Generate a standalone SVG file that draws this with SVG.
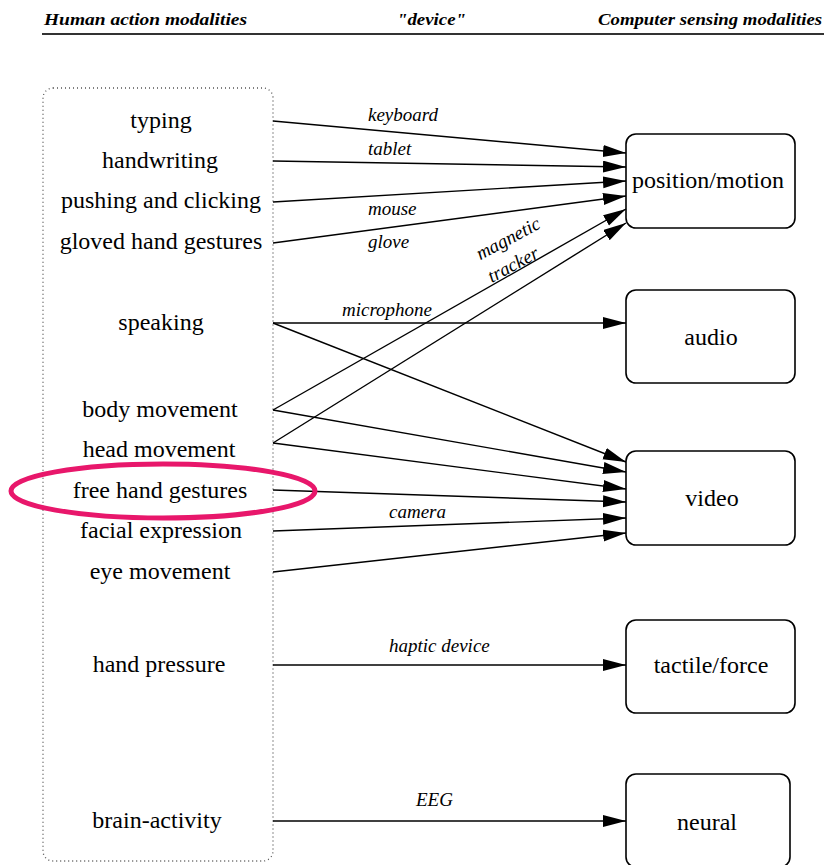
<svg xmlns="http://www.w3.org/2000/svg" width="824" height="865" viewBox="0 0 824 865">
<defs>
<marker id="ah" markerUnits="userSpaceOnUse" markerWidth="24" markerHeight="14" refX="23" refY="6" orient="auto">
<path d="M0,0 L23,6 L0,12 Z" fill="#000"/>
</marker>
<style>
.hdr{font-family:"Liberation Serif",serif;font-weight:bold;font-style:italic;font-size:16px;fill:#000}
.lbl{font-family:"Liberation Serif",serif;font-size:24px;fill:#000;text-anchor:middle}
.edge{font-family:"Liberation Serif",serif;font-style:italic;font-size:19px;fill:#000}
.box{fill:#fff;stroke:#000;stroke-width:1.6}
.conn line{stroke:#000;stroke-width:1.4;marker-end:url(#ah)}
</style>
</defs>
<rect width="824" height="865" fill="#fff"/>
<g id="header">
<text class="hdr" x="44" y="25" textLength="203" lengthAdjust="spacingAndGlyphs">Human action modalities</text>
<text class="hdr" x="397" y="25" textLength="69" lengthAdjust="spacingAndGlyphs">"device"</text>
<text class="hdr" x="598" y="25" textLength="224" lengthAdjust="spacingAndGlyphs">Computer sensing modalities</text>
<line x1="42" y1="34" x2="824" y2="34" stroke="#333" stroke-width="2"/>
</g>
<g id="human-group">
<rect x="43" y="88" width="230" height="773" rx="10" fill="none" stroke="#555" stroke-width="1.3" stroke-dasharray="1 3"/>
</g>
<g id="n-typing"><text class="lbl" x="161" y="128">typing</text></g>
<g id="n-handwriting"><text class="lbl" x="160" y="168">handwriting</text></g>
<g id="n-pushing"><text class="lbl" x="161" y="208">pushing and clicking</text></g>
<g id="n-gloved"><text class="lbl" x="161" y="249">gloved hand gestures</text></g>
<g id="n-speaking"><text class="lbl" x="161" y="330">speaking</text></g>
<g id="n-body"><text class="lbl" x="160" y="417">body movement</text></g>
<g id="n-head"><text class="lbl" x="159" y="457">head movement</text></g>
<g id="n-freehand"><text class="lbl" x="160" y="498">free hand gestures</text></g>
<g id="n-facial"><text class="lbl" x="161" y="538">facial expression</text></g>
<g id="n-eye"><text class="lbl" x="160" y="579">eye movement</text></g>
<g id="n-pressure"><text class="lbl" x="159" y="672">hand pressure</text></g>
<g id="n-brain"><text class="lbl" x="157" y="828">brain-activity</text></g>

<g id="n-position"><rect class="box" x="626" y="134" width="169" height="94" rx="10"/><text class="lbl" x="708" y="188">position/motion</text></g>
<g id="n-audio"><rect class="box" x="626" y="290" width="169" height="93" rx="10"/><text class="lbl" x="711" y="345">audio</text></g>
<g id="n-video"><rect class="box" x="626" y="451" width="169" height="94" rx="10"/><text class="lbl" x="712" y="506">video</text></g>
<g id="n-tactile"><rect class="box" x="626" y="620" width="169" height="93" rx="10"/><text class="lbl" x="711" y="673">tactile/force</text></g>
<g id="n-neural"><rect class="box" x="626" y="774" width="164" height="93" rx="10"/><text class="lbl" x="707" y="830">neural</text></g>

<g id="connectors" class="conn">
<line x1="273" y1="121" x2="626" y2="153"/>
<line x1="273" y1="161" x2="626" y2="167"/>
<line x1="273" y1="202" x2="626" y2="181"/>
<line x1="273" y1="243" x2="626" y2="196"/>
<line x1="273" y1="410" x2="626" y2="209"/>
<line x1="273" y1="443" x2="626" y2="223"/>
<line x1="273" y1="323" x2="626" y2="323"/>
<line x1="273" y1="323" x2="626" y2="462"/>
<line x1="273" y1="410" x2="626" y2="472"/>
<line x1="273" y1="443" x2="626" y2="489"/>
<line x1="273" y1="490" x2="626" y2="502"/>
<line x1="273" y1="531" x2="626" y2="518"/>
<line x1="273" y1="572" x2="626" y2="533"/>
<line x1="273" y1="665" x2="626" y2="665"/>
<line x1="273" y1="821" x2="626" y2="821"/>
</g>
<g id="edge-labels">
<text class="edge" x="368" y="121">keyboard</text>
<text class="edge" x="368" y="155">tablet</text>
<text class="edge" x="368" y="215">mouse</text>
<text class="edge" x="368" y="248">glove</text>
<text class="edge" text-anchor="middle" transform="translate(511,244) rotate(-28)">magnetic</text>
<text class="edge" text-anchor="middle" transform="translate(516,270) rotate(-28)">tracker</text>
<text class="edge" x="342" y="316">microphone</text>
<text class="edge" x="389" y="518">camera</text>
<text class="edge" x="389" y="652">haptic device</text>
<text class="edge" x="416" y="806">EEG</text>
</g>
<g id="highlight">
<ellipse cx="163" cy="491" rx="152" ry="27" fill="none" stroke="#e8176b" stroke-width="5"/>
</g>
</svg>
